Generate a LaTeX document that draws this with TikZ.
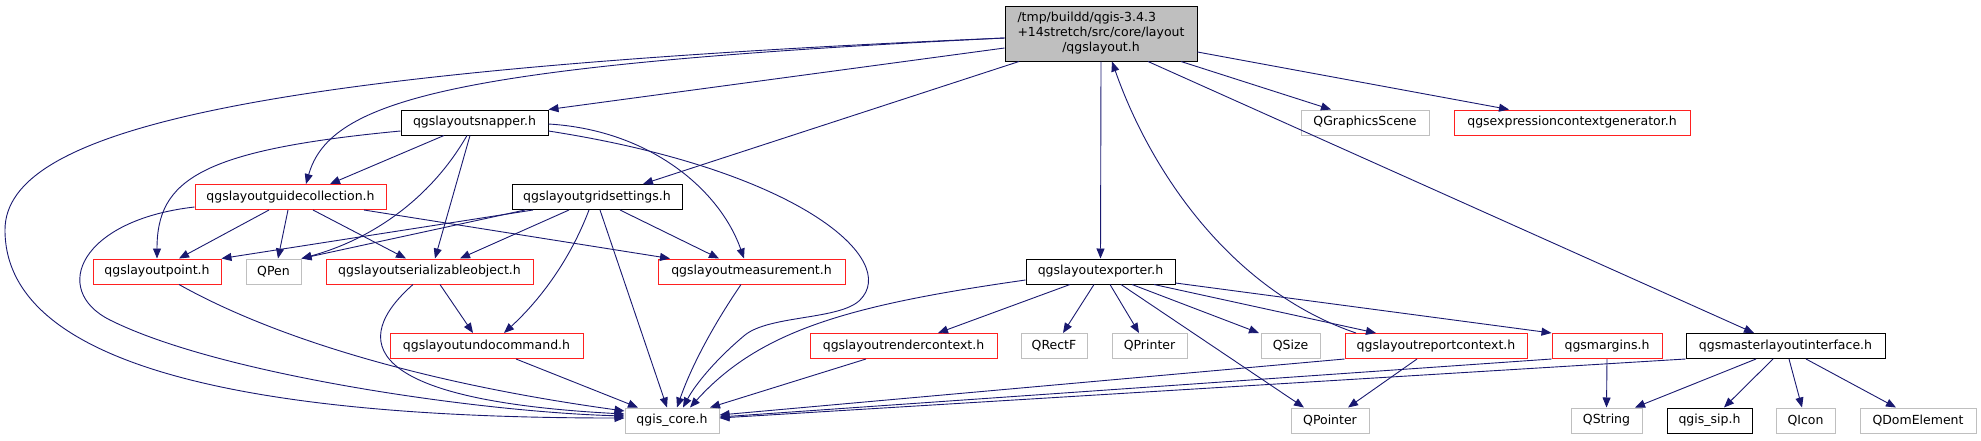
\documentclass[tikz,border=0pt]{standalone}
\usepackage{fontspec}
\setmainfont{DejaVu Sans}
\usepackage{tikz}
\usetikzlibrary{arrows.meta, positioning}
\definecolor{EdgeBlue}{HTML}{191970}
\definecolor{ExtGray}{HTML}{BFBFBF}
\definecolor{TruncRed}{HTML}{FF2020}

\begin{document}
\begin{tikzpicture}[x=1pt, y=-1pt,
    hfile/.style={draw=black, line width=1pt, font=\fontsize{12.5}{15}\selectfont, minimum height=25pt, inner sep=0pt},
    root/.style={hfile, fill=ExtGray, minimum height=55pt},
    trunc/.style={hfile, draw=TruncRed},
    ext/.style={hfile, draw=ExtGray},
    dep/.style={EdgeBlue, line width=0.9pt, -{Triangle[length=10pt, width=8pt]}}
]
\useasboundingbox (0,0) rectangle (1981,440);
\def\rowA{122.5}
\def\rowB{197}
\def\rowC{271.5}
\def\rowD{346}
\def\rowE{420.5}

% Root file
\node[root, minimum width=192pt] (layout) at (1101,33.5) {\begin{tabular}{@{}l@{}}/tmp/buildd/qgis-3.4.3\\+14stretch/src/core/layout\\\multicolumn{1}{@{}c@{}}{/qgslayout.h}\end{tabular}};

% Row 1
\node[hfile, minimum width=147pt] (snapper) at (474.5,\rowA) {qgslayoutsnapper.h};
\node[ext, minimum width=128pt] (scene) at (1365,\rowA) {QGraphicsScene};
\node[trunc, minimum width=236pt] (exprgen) at (1572,\rowA) {qgsexpressioncontextgenerator.h};

% Row 2
\node[trunc, minimum width=191pt] (gcoll) at (290.5,\rowB) {qgslayoutguidecollection.h};
\node[hfile, minimum width=170pt] (gset) at (597,\rowB) {qgslayoutgridsettings.h};

% Row 3
\node[trunc, minimum width=128pt] (point) at (157,\rowC) {qgslayoutpoint.h};
\node[ext, minimum width=55pt] (pen) at (273.5,\rowC) {QPen};
\node[trunc, minimum width=207pt] (serial) at (429.5,\rowC) {qgslayoutserializableobject.h};
\node[trunc, minimum width=187pt] (measure) at (751.5,\rowC) {qgslayoutmeasurement.h};
\node[hfile, minimum width=149pt] (exporter) at (1100.5,\rowC) {qgslayoutexporter.h};

% Row 4
\node[trunc, minimum width=193pt] (undo) at (486.5,\rowD) {qgslayoutundocommand.h};
\node[trunc, minimum width=187pt] (render) at (903.5,\rowD) {qgslayoutrendercontext.h};
\node[ext, minimum width=66pt] (rectf) at (1054,\rowD) {QRectF};
\node[ext, minimum width=75pt] (printer) at (1149.5,\rowD) {QPrinter};
\node[ext, minimum width=59pt] (size) at (1290.5,\rowD) {QSize};
\node[trunc, minimum width=182pt] (report) at (1436,\rowD) {qgslayoutreportcontext.h};
\node[trunc, minimum width=110pt] (margins) at (1607,\rowD) {qgsmargins.h};
\node[hfile, minimum width=199pt] (master) at (1785.5,\rowD) {qgsmasterlayoutinterface.h};

% Row 5
\node[ext, minimum width=94pt] (core) at (672,\rowE) {qgis\_core.h};
\node[ext, minimum width=78pt] (pointer) at (1330,\rowE) {QPointer};
\node[ext, minimum width=71pt] (string) at (1606.5,\rowE) {QString};
\node[hfile, minimum width=85pt] (sip) at (1709.5,\rowE) {qgis\_sip.h};
\node[ext, minimum width=59pt] (icon) at (1805.5,\rowE) {QIcon};
\node[ext, minimum width=116pt] (dom) at (1918,\rowE) {QDomElement};

% qgslayout.h includes
\draw[dep] ([yshift=-4.5pt]layout.west) .. controls (250,70) and (5,130) .. (5,230) .. controls (5,380) and (300,418) .. ([yshift=2.5pt]core.west);
\draw[dep] ([yshift=-4.5pt]layout.west) .. controls (450,65) and (330,100) .. ([xshift=15.5pt]gcoll.north);
\draw[dep] ([yshift=-14.5pt]layout.west) -- (snapper.north east);
\draw[dep] ([xshift=-82pt]layout.south) -- ([xshift=46pt]gset.north);
\draw[dep] (layout.south) -- (exporter.north);
\draw[dep] ([xshift=80pt]layout.south) -- ([xshift=-34pt]scene.north);
\draw[dep] ([yshift=-18.5pt]layout.east) -- ([xshift=-63pt]exprgen.north);
\draw[dep] ([xshift=47pt]layout.south) -- ([xshift=-31.5pt]master.north);
\draw[dep] ([xshift=-80pt]report.north) .. controls (1230,290) and (1150,170) .. ([xshift=11pt]layout.south);

% qgslayoutsnapper.h includes
\draw[dep] ([xshift=-30.5pt]snapper.south) -- ([xshift=39.5pt]gcoll.north);
\draw[dep] ([yshift=-8.5pt]snapper.west) .. controls (200,150) and (157,180) .. (point.north);
\draw[dep] ([xshift=-7.5pt]snapper.south) .. controls (430,200) and (370,240) .. (pen.north east);
\draw[dep] ([xshift=-4.5pt]snapper.south) -- ([xshift=5.5pt]serial.north);
\draw[dep] ([yshift=-1.5pt]snapper.east) .. controls (650,130) and (720,190) .. ([xshift=-7.5pt]measure.north);
\draw[dep] ([yshift=-8.5pt]snapper.east) .. controls (800,170) and (900,260) .. (860,300) .. controls (840,320) and (770,315) .. (745,335) .. controls (715,360) and (695,385) .. ([xshift=11pt]core.north);

% qgslayoutguidecollection.h includes
\draw[dep] ([xshift=-21.5pt]gcoll.south) -- ([xshift=22pt]point.north);
\draw[dep] ([xshift=-2.5pt]gcoll.south) -- ([xshift=4.5pt]pen.north);
\draw[dep] ([xshift=22.5pt]gcoll.south) -- ([xshift=-23.5pt]serial.north);
\draw[dep] ([xshift=73.5pt]gcoll.south) -- ([xshift=-81.5pt]measure.north);
\draw[dep] ([yshift=-10pt]gcoll.west) .. controls (80,220) and (50,290) .. (110,320) .. controls (220,375) and (480,412) .. ([yshift=4.5pt]core.west);

% qgslayoutgridsettings.h includes
\draw[dep] ([xshift=-64pt]gset.south) -- (point.north east);
\draw[dep] ([xshift=-72pt]gset.south) -- (pen.north east);
\draw[dep] ([xshift=-28pt]gset.south) -- ([xshift=30.5pt]serial.north);
\draw[dep] ([xshift=23pt]gset.south) -- ([xshift=-32.5pt]measure.north);
\draw[dep] ([xshift=-8pt]gset.south) .. controls (570,260) and (540,300) .. ([xshift=17.5pt]undo.north);
\draw[dep] ([xshift=3pt]gset.south) -- ([xshift=-5pt]core.north);

% third row to qgis_core.h
\draw[dep] ([xshift=22pt]point.south) .. controls (260,330) and (400,380) .. ([yshift=9.5pt]core.west);
\draw[dep] ([xshift=10.5pt]serial.south) -- ([xshift=-13.5pt]undo.north);
\draw[dep] ([xshift=-16.5pt]serial.south) .. controls (350,340) and (360,400) .. ([yshift=6.5pt]core.west);
\draw[dep] ([xshift=29.5pt]undo.south) -- ([xshift=-34pt]core.north);
\draw[dep] ([xshift=-10.5pt]measure.south) .. controls (710,330) and (690,370) .. ([xshift=5pt]core.north);

% qgslayoutexporter.h includes
\draw[dep] ([yshift=-8.5pt]exporter.west) .. controls (850,305) and (760,330) .. ([xshift=18pt]core.north);
\draw[dep] ([xshift=-30.5pt]exporter.south) -- ([xshift=34.5pt]render.north);
\draw[dep] ([xshift=-6.5pt]exporter.south) -- ([xshift=9pt]rectf.north);
\draw[dep] ([xshift=9.5pt]exporter.south) -- ([xshift=-10.5pt]printer.north);
\draw[dep] ([xshift=31.5pt]exporter.south) -- ([xshift=-31.5pt]size.north);
\draw[dep] ([xshift=20.5pt]exporter.south) -- ([xshift=-26pt]pointer.north);
\draw[dep] ([xshift=53.5pt]exporter.south) -- ([xshift=-60pt]report.north);
\draw[dep] ([yshift=1.5pt]exporter.south east) -- (margins.north west);

% fourth row
\draw[dep] ([xshift=-37.5pt]render.south) -- ([xshift=38pt]core.north);
\draw[dep] (report.south west) -- ([yshift=5.5pt]core.east);
\draw[dep] ([xshift=-19pt]report.south) -- ([xshift=18pt]pointer.north);
\draw[dep] (margins.south west) -- ([yshift=3.5pt]core.east);
\draw[dep] (margins.south) -- (string.north);
\draw[dep] (master.south west) -- ([yshift=2.5pt]core.east);
\draw[dep] ([xshift=-29.5pt]master.south) -- ([xshift=28.5pt]string.north);
\draw[dep] ([xshift=-12.5pt]master.south) -- ([xshift=14.5pt]sip.north);
\draw[dep] ([xshift=3.5pt]master.south) -- ([xshift=-3.5pt]icon.north);
\draw[dep] ([xshift=20.5pt]master.south) -- ([xshift=-22pt]dom.north);
\end{tikzpicture}
\end{document}
